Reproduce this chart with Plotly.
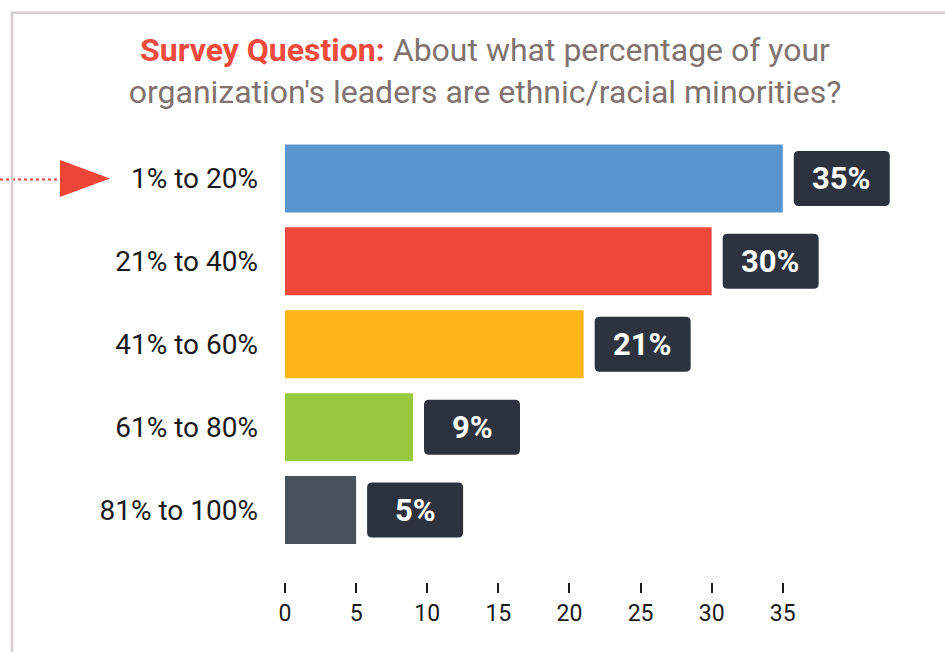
import plotly.graph_objects as go

categories = ["1% to 20%", "21% to 40%", "41% to 60%", "61% to 80%", "81% to 100%"]
values = [35, 30, 21, 9, 5]
value_labels = ["35%", "30%", "21%", "9%", "5%"]
bar_colors = ["#5b95cf", "#f0493c", "#fdb515", "#97c93d", "#48515c"]
x_ticks = [0, 5, 10, 15, 20, 25, 30, 35]

W, H = 945, 652
ML, MR, MT, MB = 285, 20, 136.5, 70
PW = W - ML - MR
PH = H - MT - MB

def px_x(p):
    return (p - ML) / PW

def px_y(p):
    return (H - MB - p) / PH

fig = go.Figure()
fig.add_trace(go.Bar(
    x=values, y=categories, orientation="h",
    marker=dict(color=bar_colors, line=dict(width=0)),
    hoverinfo="skip", showlegend=False,
))

shapes = []
annotations = []
r = 5
bw, bh = 96, 55
off = 11
for i, (v, lab) in enumerate(zip(values, value_labels)):
    x0, x1 = off, off + bw
    y0, y1 = -bh / 2, bh / 2
    path = (f"M {x0+r},{y0} L {x1-r},{y0} Q {x1},{y0} {x1},{y0+r} "
            f"L {x1},{y1-r} Q {x1},{y1} {x1-r},{y1} L {x0+r},{y1} "
            f"Q {x0},{y1} {x0},{y1-r} L {x0},{y0+r} Q {x0},{y0} {x0+r},{y0} Z")
    shapes.append(dict(type="path", xref="x", yref="y", xsizemode="pixel", ysizemode="pixel",
                       xanchor=v, yanchor=i, path=path,
                       fillcolor="#2c333f", line=dict(width=0), layer="above"))
    annotations.append(dict(x=v, y=categories[i], xref="x", yref="y", text=f"<b>{lab}</b>",
                            showarrow=False, xanchor="center", yanchor="middle",
                            xshift=off + bw / 2, yshift=0,
                            font=dict(family="Roboto", size=31, color="#ffffff")))

# arrow pointer at first category
shapes.append(dict(type="path", xref="paper", yref="y", xsizemode="pixel", ysizemode="pixel",
                   xanchor=0, yanchor=0,
                   path="M -225,-18.5 L -225,18.5 L -175,0 Z",
                   fillcolor="#ef4438", line=dict(width=0)))
shapes.append(dict(type="line", xref="paper", yref="y", xsizemode="pixel", ysizemode="pixel",
                   xanchor=0, yanchor=0, x0=-285, x1=-228, y0=-1, y1=-1,
                   line=dict(color="#ef4438", width=2, dash="dot")))

# frame lines
shapes.append(dict(type="line", xref="paper", yref="paper",
                   x0=px_x(12), x1=px_x(12), y0=px_y(11), y1=px_y(H + 5),
                   line=dict(color="#d5cfcf", width=2.5)))
shapes.append(dict(type="line", xref="paper", yref="paper",
                   x0=px_x(11), x1=px_x(W + 5), y0=px_y(12), y1=px_y(12),
                   line=dict(color="#d5cfcf", width=2.5)))

fig.update_layout(
    width=W, height=H,
    margin=dict(l=ML, r=MR, t=MT, b=MB),
    paper_bgcolor="#ffffff", plot_bgcolor="#ffffff",
    bargap=0.18,
    font=dict(family="Roboto", color="#1a1a1a"),
    title=dict(
        text="<b><span style='color:#ef4a3c'>Survey Question:</span></b> About what percentage of your<br>organization's leaders are ethnic/racial minorities?",
        x=485 / W, xanchor="center", y=1 - 61 / H, yanchor="middle",
        font=dict(family="Roboto", size=32, color="#80736f"),
    ),
    xaxis=dict(range=[0, 45], tickvals=x_ticks, showgrid=False, zeroline=False, showline=False,
               ticks="outside", ticklen=10, tickwidth=2, tickcolor="#1a1a1a",
               tickfont=dict(family="Roboto", size=23, color="#1a1a1a"), fixedrange=True),
    yaxis=dict(categoryorder="array", categoryarray=categories,
               range=[4.5 + (582 - 551.5) / 83, -0.5],
               showgrid=False, zeroline=False, showline=False, ticks="",
               ticklabelstandoff=26,
               tickfont=dict(family="Roboto", size=28, color="#1a1a1a"), fixedrange=True),
    shapes=shapes, annotations=annotations,
)

fig.write_html("out.html", config={"displayModeBar": False},
               post_script="document.body.style.margin='0px';document.body.style.overflow='hidden';")
